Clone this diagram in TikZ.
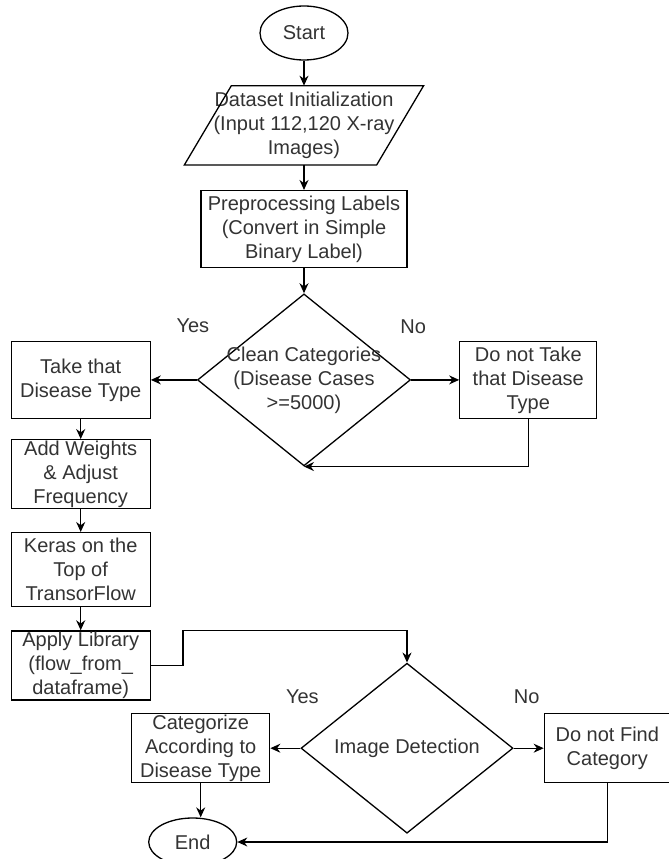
\documentclass[tikz,border=0pt]{standalone}
\usepackage{fontspec}
\setmainfont{Liberation Sans}
\usetikzlibrary{shapes.geometric, arrows.meta, positioning}

\begin{document}
\begin{tikzpicture}[x=1pt, y=1pt, >={Stealth[length=10pt, width=9pt]},
  line width=1.3pt, node distance=25pt,
  font=\fontsize{20}{24}\selectfont,
  every node/.append style={text=black!80},
  term/.style={draw, ellipse, minimum width=88pt, minimum height=54pt,
               inner sep=0pt},
  io/.style={rectangle, minimum width=191pt, minimum height=78pt,
             inner sep=0pt, align=center},
  box/.style={draw, rectangle, minimum width=139pt, inner sep=1pt,
              align=center},
  dec/.style={draw, diamond, minimum width=213pt, minimum height=172pt,
              inner sep=0pt},
  txt/.style={align=center, inner sep=0pt},
  lbl/.style={inner sep=0pt}
]
  \useasboundingbox (0,0) rectangle (669,-859);

  %% main column
  \node[term] (start) at (304,-33) {Start};
  \node[io, below=25pt of start] (data)
    {Dataset Initialization\\(Input 112,120 X-ray\\Images)};
  \draw ([xshift=-23.5pt]data.south west) -- ([xshift=-23.5pt]data.south east)
    -- ([xshift=23.5pt]data.north east) -- ([xshift=23.5pt]data.north west)
    -- cycle;
  \node[box, minimum width=206pt, minimum height=77pt, below=25pt of data]
    (prep) {Preprocessing Labels\\(Convert in Simple\\Binary Label)};
  \node[dec, below=25pt of prep] (clean) {};
  \node[txt] at (clean) {Clean Categories\\(Disease Cases\\>=5000)};

  %% branches of the first decision
  \node[box, minimum height=77pt, left=46pt of clean] (take)
    {Take that\\Disease Type};
  \node[box, minimum width=137pt, minimum height=77pt, right=48pt of clean]
    (skip) {Do not Take\\that Disease\\Type};

  %% left column
  \node[box, minimum height=68pt, below=20pt of take] (weights)
    {Add Weights\\\& Adjust\\Frequency};
  \node[box, minimum height=74pt, below=23pt of weights] (keras)
    {Keras on the\\Top of\\TransorFlow};
  \node[box, minimum height=69pt, below=23pt of keras] (apply)
    {Apply Library\\(flow\_from\_\\dataframe)};

  %% second decision
  \node[dec, minimum width=212pt, minimum height=170pt,
        below=196pt of clean, xshift=103pt] (detect) {Image Detection};
  \node[box, minimum width=138pt, minimum height=69pt, left=30pt of detect]
    (cat) {Categorize\\According to\\Disease Type};
  \node[box, minimum width=126pt, minimum height=69pt, right=30pt of detect]
    (nofind) {Do not Find\\Category};
  \node[term, minimum height=48pt, below=34pt of cat, xshift=-8pt] (end) {End};

  %% labels
  \node[lbl] at ([shift={(-4pt,54pt)}]clean.west) {Yes};
  \node[lbl] at ([shift={(2pt,53pt)}]clean.east) {No};
  \node[lbl] at ([shift={(2pt,51pt)}]detect.west) {Yes};
  \node[lbl] at ([shift={(13pt,51pt)}]detect.east) {No};

  %% connectors
  \draw[->] (start) -- (data);
  \draw[->] (data) -- (prep);
  \draw[->] (prep) -- (clean);
  \draw[->] (clean) -- (take);
  \draw[->] (clean) -- (skip);
  \draw[->] (skip.south) |- (clean.south);
  \draw[->] (take) -- (weights);
  \draw[->] (weights) -- (keras);
  \draw[->] (keras) -- (apply);
  \coordinate[right=32pt of apply.north east] (bend);
  \draw[->] (apply.east) -| (bend) -| (detect.north);
  \draw[->] (detect) -- (cat);
  \draw[->] (detect) -- (nofind);
  \draw[->] (cat.south) -- (cat.south |- end.north);
  \draw[->] (nofind.south) |- (end.east);
\end{tikzpicture}
\end{document}
